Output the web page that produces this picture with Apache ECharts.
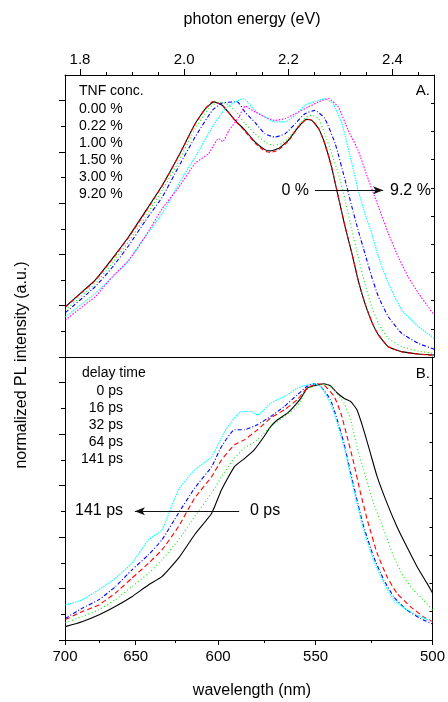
<!DOCTYPE html>
<html><head><meta charset="utf-8">
<script src="https://cdn.jsdelivr.net/npm/echarts@6/dist/echarts.min.js"></script>
<style>html,body{margin:0;padding:0;background:#fff}#c{width:448px;height:702px}</style>
</head><body><div id="c"></div>
<script>
const HC = 1239.84; // eV*nm
const FONT = 'Liberation Sans, Arial, sans-serif';

// ---- text / tick data ----
const tnfTitle = 'TNF conc.';
const tnfConc = ['0.00 %', '0.22 %', '1.00 %', '1.50 %', '3.00 %', '9.20 %'];
const delayTitle = 'delay time';
const delayTimes = ['0 ps', '16 ps', '32 ps', '64 ps', '141 ps'];
const energyTickLabels = [1.8, 2.0, 2.2, 2.4];
const energyMinorTicks = [1.8, 1.85, 1.9, 1.95, 2.0, 2.05, 2.1, 2.15, 2.2, 2.25, 2.3, 2.35, 2.4, 2.45];
const wavelengthTickLabels = [700, 650, 600, 550, 500];
const wavelengthMinorTicks = [675, 625, 575, 525];
const yMajorTicks = [0, 0.2, 0.4, 0.6, 0.8, 1.0];
const yMinorTicks = [0.1, 0.3, 0.5, 0.7, 0.9];

// ---- panel A: PL vs photon energy (eV), normalized ----
const tnf000 = [[1.772,0.196],[1.804,0.254],[1.829,0.300],[1.862,0.384],[1.894,0.471],[1.925,0.566],[1.958,0.670],[1.990,0.787],[2.021,0.910],[2.041,0.969],[2.057,0.995],[2.073,0.982],[2.098,0.923],[2.117,0.884],[2.136,0.839],[2.155,0.809],[2.165,0.804],[2.181,0.813],[2.200,0.845],[2.219,0.897],[2.235,0.927],[2.245,0.923],[2.258,0.891],[2.270,0.832],[2.283,0.741],[2.296,0.624],[2.309,0.508],[2.322,0.404],[2.334,0.300],[2.347,0.209],[2.360,0.138],[2.373,0.086],[2.392,0.040],[2.418,0.021],[2.450,0.012],[2.480,0.008]];
const tnf022 = [[1.772,0.195],[1.804,0.252],[1.829,0.298],[1.862,0.381],[1.894,0.468],[1.925,0.563],[1.958,0.668],[1.990,0.786],[2.021,0.909],[2.041,0.970],[2.055,0.996],[2.073,0.984],[2.098,0.921],[2.117,0.880],[2.136,0.834],[2.155,0.803],[2.165,0.798],[2.181,0.808],[2.200,0.842],[2.219,0.896],[2.235,0.928],[2.245,0.924],[2.258,0.892],[2.270,0.832],[2.283,0.742],[2.296,0.625],[2.309,0.509],[2.322,0.405],[2.334,0.300],[2.347,0.210],[2.360,0.138],[2.373,0.087],[2.392,0.040],[2.418,0.020],[2.450,0.011],[2.480,0.007]];
const tnf100 = [[1.772,0.183],[1.804,0.240],[1.829,0.285],[1.862,0.366],[1.894,0.452],[1.925,0.545],[1.958,0.651],[1.990,0.765],[2.021,0.891],[2.047,0.969],[2.063,0.992],[2.080,0.990],[2.098,0.960],[2.117,0.910],[2.136,0.871],[2.155,0.839],[2.171,0.826],[2.187,0.832],[2.200,0.852],[2.219,0.904],[2.235,0.936],[2.245,0.943],[2.258,0.930],[2.270,0.871],[2.283,0.794],[2.296,0.716],[2.309,0.612],[2.322,0.495],[2.334,0.391],[2.347,0.287],[2.360,0.196],[2.373,0.131],[2.392,0.073],[2.418,0.040],[2.450,0.023],[2.480,0.014]];
const tnf150 = [[1.772,0.173],[1.829,0.274],[1.862,0.350],[1.894,0.436],[1.925,0.530],[1.958,0.624],[1.990,0.745],[2.021,0.858],[2.054,0.962],[2.073,0.991],[2.102,0.995],[2.117,0.955],[2.136,0.915],[2.155,0.871],[2.174,0.858],[2.194,0.871],[2.213,0.910],[2.232,0.949],[2.251,0.962],[2.270,0.930],[2.290,0.832],[2.309,0.690],[2.322,0.586],[2.334,0.495],[2.347,0.404],[2.360,0.313],[2.373,0.235],[2.392,0.157],[2.418,0.092],[2.450,0.053],[2.480,0.030]];
const tnf300 = [[1.772,0.157],[1.829,0.248],[1.862,0.310],[1.894,0.378],[1.925,0.469],[1.958,0.560],[1.990,0.677],[2.021,0.780],[2.054,0.897],[2.079,0.969],[2.098,0.995],[2.114,1.008],[2.124,0.990],[2.136,0.962],[2.155,0.936],[2.174,0.917],[2.194,0.917],[2.213,0.943],[2.232,0.982],[2.258,1.001],[2.270,1.008],[2.286,0.988],[2.303,0.910],[2.322,0.755],[2.334,0.651],[2.347,0.560],[2.360,0.482],[2.373,0.391],[2.392,0.287],[2.418,0.183],[2.450,0.118],[2.480,0.073]];
const tnf920 = [[1.772,0.144],[1.804,0.196],[1.829,0.235],[1.862,0.313],[1.894,0.378],[1.925,0.469],[1.958,0.579],[1.990,0.663],[2.021,0.755],[2.047,0.794],[2.066,0.852],[2.074,0.840],[2.086,0.884],[2.105,0.936],[2.117,0.978],[2.136,0.956],[2.155,0.936],[2.174,0.923],[2.194,0.930],[2.213,0.949],[2.238,0.975],[2.258,0.995],[2.277,1.008],[2.296,0.975],[2.315,0.884],[2.334,0.806],[2.354,0.690],[2.373,0.586],[2.392,0.482],[2.411,0.391],[2.430,0.313],[2.450,0.248],[2.466,0.203],[2.480,0.164]];

// ---- panel B: time-resolved PL vs photon energy (eV), normalized ----
const ps0 = [[1.772,0.052],[1.804,0.071],[1.836,0.097],[1.868,0.130],[1.900,0.168],[1.932,0.214],[1.958,0.246],[1.990,0.318],[2.021,0.409],[2.054,0.493],[2.073,0.584],[2.098,0.674],[2.117,0.705],[2.136,0.739],[2.155,0.791],[2.168,0.830],[2.181,0.856],[2.200,0.882],[2.213,0.908],[2.226,0.940],[2.238,0.979],[2.251,0.988],[2.270,0.996],[2.283,0.988],[2.296,0.960],[2.309,0.940],[2.322,0.927],[2.334,0.895],[2.347,0.817],[2.360,0.726],[2.373,0.635],[2.392,0.532],[2.411,0.441],[2.430,0.363],[2.450,0.285],[2.469,0.221],[2.480,0.182]];
const ps16 = [[1.772,0.067],[1.804,0.091],[1.836,0.117],[1.868,0.156],[1.900,0.207],[1.932,0.259],[1.958,0.311],[1.990,0.389],[2.021,0.480],[2.054,0.571],[2.073,0.635],[2.098,0.707],[2.117,0.746],[2.142,0.778],[2.168,0.830],[2.194,0.869],[2.219,0.908],[2.238,0.973],[2.258,0.992],[2.277,0.992],[2.290,0.973],[2.309,0.921],[2.322,0.856],[2.334,0.752],[2.347,0.661],[2.366,0.532],[2.386,0.428],[2.405,0.324],[2.424,0.246],[2.443,0.195],[2.462,0.156],[2.480,0.117]];
const ps32 = [[1.772,0.080],[1.804,0.110],[1.836,0.136],[1.868,0.182],[1.900,0.240],[1.932,0.298],[1.958,0.350],[1.990,0.441],[2.021,0.551],[2.054,0.635],[2.073,0.700],[2.098,0.759],[2.117,0.778],[2.142,0.817],[2.168,0.863],[2.194,0.895],[2.219,0.934],[2.238,0.979],[2.258,0.996],[2.270,0.992],[2.290,0.947],[2.303,0.882],[2.315,0.791],[2.328,0.687],[2.341,0.571],[2.354,0.467],[2.373,0.337],[2.392,0.246],[2.411,0.182],[2.437,0.130],[2.462,0.091],[2.480,0.071]];
const ps64 = [[1.772,0.084],[1.804,0.123],[1.836,0.156],[1.868,0.207],[1.900,0.272],[1.932,0.331],[1.958,0.389],[1.990,0.493],[2.021,0.590],[2.054,0.674],[2.073,0.752],[2.098,0.817],[2.117,0.817],[2.142,0.837],[2.168,0.869],[2.194,0.908],[2.219,0.953],[2.238,0.986],[2.251,0.996],[2.264,0.986],[2.283,0.934],[2.296,0.856],[2.309,0.765],[2.322,0.649],[2.334,0.545],[2.347,0.441],[2.366,0.324],[2.386,0.233],[2.405,0.168],[2.430,0.117],[2.456,0.084],[2.480,0.062]];
const ps141 = [[1.772,0.136],[1.804,0.156],[1.836,0.195],[1.868,0.240],[1.900,0.298],[1.932,0.389],[1.958,0.428],[1.990,0.584],[2.021,0.661],[2.054,0.713],[2.079,0.810],[2.111,0.888],[2.130,0.888],[2.142,0.875],[2.168,0.921],[2.187,0.940],[2.200,0.953],[2.219,0.979],[2.238,0.992],[2.251,0.996],[2.264,0.986],[2.283,0.921],[2.296,0.843],[2.309,0.752],[2.322,0.635],[2.334,0.532],[2.347,0.428],[2.366,0.311],[2.386,0.221],[2.405,0.156],[2.430,0.117],[2.456,0.091],[2.480,0.071]];

// annotation arrows (data coordinates: eV, normalized intensity)
const arrowA = [[2.251, 0.65], [2.382, 0.65]];
const arrowB = [[2.107, 0.5], [1.906, 0.5]];

// ---- build chart ----
const xMin = HC / 700, xMax = HC / 500;
const chart = echarts.init(document.getElementById('c'), null, {renderer: 'canvas'});
const black = '#000';
const lineAx = {show: true, onZero: false, lineStyle: {color: black, width: 1}};
const noLabel = {show: false};

function xAx(grid, pos, opts) {
  return Object.assign({
    type: 'value', gridIndex: grid, position: pos, min: xMin, max: xMax,
    axisLine: lineAx, splitLine: {show: false}, axisLabel: noLabel, axisTick: {show: false}
  }, opts);
}
function yAx(grid, pos, opts) {
  return Object.assign({
    type: 'value', gridIndex: grid, position: pos, min: 0, max: 1.1,
    axisLine: lineAx, splitLine: {show: false}, axisLabel: noLabel, axisTick: {show: false}
  }, opts);
}
const tickStyle = {color: black, width: 1};

const xAxis = [
  xAx(0, 'top', {
    axisTick: {show: true, inside: false, length: 6, lineStyle: tickStyle, customValues: energyTickLabels},
    axisLabel: {show: true, margin: 8, color: black, fontSize: 15, fontFamily: FONT,
      customValues: energyTickLabels, formatter: v => v.toFixed(1)}
  }),
  xAx(0, 'top', {axisLine: {show: false, onZero: false},
    axisTick: {show: true, inside: false, length: 3, lineStyle: tickStyle, customValues: energyMinorTicks}}),
  xAx(0, 'bottom', {}),
  xAx(1, 'bottom', {
    axisTick: {show: true, inside: false, length: 5, lineStyle: tickStyle, customValues: wavelengthTickLabels.map(w => HC / w)},
    axisLabel: {show: true, margin: 9, color: black, fontSize: 15, fontFamily: FONT,
      customValues: wavelengthTickLabels.map(w => HC / w), formatter: v => String(Math.round(HC / v))}
  }),
  xAx(1, 'bottom', {axisLine: {show: false, onZero: false},
    axisTick: {show: true, inside: false, length: 3, lineStyle: tickStyle, customValues: wavelengthMinorTicks.map(w => HC / w)}})
];

const yAxis = [];
[0, 1].forEach(g => {
  yAxis.push(yAx(g, 'left', {axisTick: {show: true, length: 6, lineStyle: tickStyle, customValues: yMajorTicks}}));
  yAxis.push(yAx(g, 'left', {axisLine: {show: false, onZero: false}, axisTick: {show: true, length: 4, lineStyle: tickStyle, customValues: yMinorTicks}}));
  yAxis.push(yAx(g, 'right', {max: 1, interval: 0.1, axisTick: {show: true, inside: true, length: 3, lineStyle: tickStyle}}));
});

const topSeries = [
  {data: tnf000, color: '#000000', type: 'solid'},
  {data: tnf022, color: '#ff0000', type: [4, 3]},
  {data: tnf100, color: '#00ee00', type: [1, 2.5]},
  {data: tnf150, color: '#0000ff', type: [4, 2, 1, 2]},
  {data: tnf300, color: '#00ffff', type: [1.5, 1]},
  {data: tnf920, color: '#ff00ff', type: [1.5, 1.5]}
];
const botSeries = [
  {data: ps0, color: '#000000', type: 'solid'},
  {data: ps16, color: '#00ee00', type: [1, 2.5]},
  {data: ps32, color: '#ff0000', type: [5, 3]},
  {data: ps64, color: '#0000ff', type: [4, 2, 1, 2]},
  {data: ps141, color: '#00ffff', type: [1.5, 1]}
];

function mkSeries(s, name, xi, yi) {
  return {
    type: 'line', name: name, xAxisIndex: xi, yAxisIndex: yi, data: s.data,
    showSymbol: false, symbol: 'none', smooth: 0.15,
    lineStyle: {color: s.color, width: 1.1, type: s.type}, silent: true, animation: false, z: 3
  };
}
const series = [];
topSeries.forEach((s, i) => series.push(mkSeries(s, tnfConc[i], 0, 0)));
botSeries.forEach((s, i) => series.push(mkSeries(s, delayTimes[i], 3, 3)));

function arrowLine(pts) {
  return {
    silent: true, animation: false, symbol: ['none', 'arrow'], symbolSize: [6, 10],
    label: {show: false}, lineStyle: {color: '#111', width: 1, type: 'solid'},
    data: [[{coord: pts[0]}, {coord: pts[1]}]]
  };
}
series.push({type: 'line', xAxisIndex: 0, yAxisIndex: 0, data: [], markLine: arrowLine(arrowA)});
series.push({type: 'line', xAxisIndex: 3, yAxisIndex: 3, data: [], markLine: arrowLine(arrowB)});

function txt(text, x, y, size, align, extra) {
  return Object.assign({type: 'text', x: x, y: y, silent: true,
    style: {text: text, font: size + 'px ' + FONT, fill: black, align: align || 'left', verticalAlign: 'middle'}}, extra || {});
}
const graphic = [
  txt('photon energy (eV)', 252, 20, 16, 'center'),
  txt('wavelength (nm)', 252, 691, 16, 'center'),
  txt('normalized PL intensity (a.u.)', 22, 365, 16, 'center', {rotation: Math.PI / 2}),
  txt('A.', 430, 91, 15, 'right'),
  txt('B.', 430, 374, 15, 'right'),
  txt(tnfTitle, 79, 91, 14, 'left'),
  txt('0 %', 309, 191, 16, 'right'),
  txt('9.2 %', 390, 191, 16, 'left'),
  txt(delayTitle, 82, 373, 14, 'left'),
  txt('141 ps', 75, 511, 16, 'left'),
  txt('0 ps', 250, 511, 16, 'left')
];
tnfConc.forEach((t, i) => graphic.push(txt(t, 79, 109 + i * 17.1, 14, 'left')));
delayTimes.forEach((t, i) => graphic.push(txt(t, 123, 391 + i * 17.1, 14, 'right')));

chart.setOption({
  backgroundColor: '#fff',
  animation: false,
  grid: [
    {left: 65, top: 75, width: 369, height: 282},
    {left: 65, top: 357, width: 369, height: 283}
  ],
  xAxis: xAxis,
  yAxis: yAxis,
  series: series,
  graphic: graphic
});
</script></body></html>
